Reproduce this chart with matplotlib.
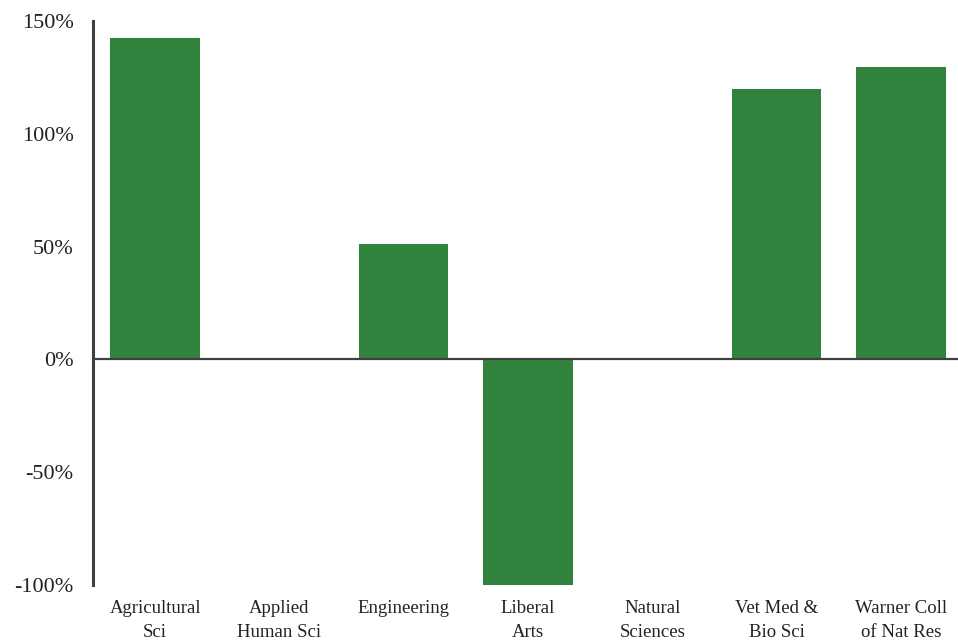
import matplotlib
matplotlib.use("Agg")
import matplotlib.pyplot as plt
from matplotlib.ticker import FuncFormatter

# data (percent change)
colleges = ["Agricultural\nSci", "Applied\nHuman Sci", "Engineering", "Liberal\nArts",
            "Natural\nSciences", "Vet Med &\nBio Sci", "Warner Coll\nof Nat Res"]
change   = [142.6, 0.0, 51.2, -100.0, 0.0, 119.9, 129.7]
yticks   = [-100, -50, 0, 50, 100, 150]

plt.rcParams["font.family"] = ["Liberation Serif", "DejaVu Serif"]

fig = plt.figure(figsize=(9.58, 6.42), dpi=100)
ax = fig.add_axes([93 / 958, 57 / 642, 870 / 958, 564 / 642])

x = range(len(colleges))
ax.bar(x, change, width=0.72, color="#31823D", zorder=2)
ax.axhline(0, color="#404040", lw=1.6, zorder=3)

ax.set_xlim(-0.5, 6.5)
ax.set_ylim(-100, 150)
ax.set_yticks(yticks)
ax.yaxis.set_major_formatter(FuncFormatter(lambda v, _: f"{v:.0f}%"))
ax.set_xticks(list(x))
ax.set_xticklabels(colleges, fontsize=13.5, linespacing=1.55)
ax.tick_params(axis="y", length=0, pad=14, labelsize=16, colors="#222222")
ax.tick_params(axis="x", length=0, pad=11, colors="#222222")

for s in ("top", "right", "bottom"):
    ax.spines[s].set_visible(False)
ax.spines["left"].set_color("#404040")
ax.spines["left"].set_linewidth(2.2)

fig.savefig("out.png", dpi=100)
